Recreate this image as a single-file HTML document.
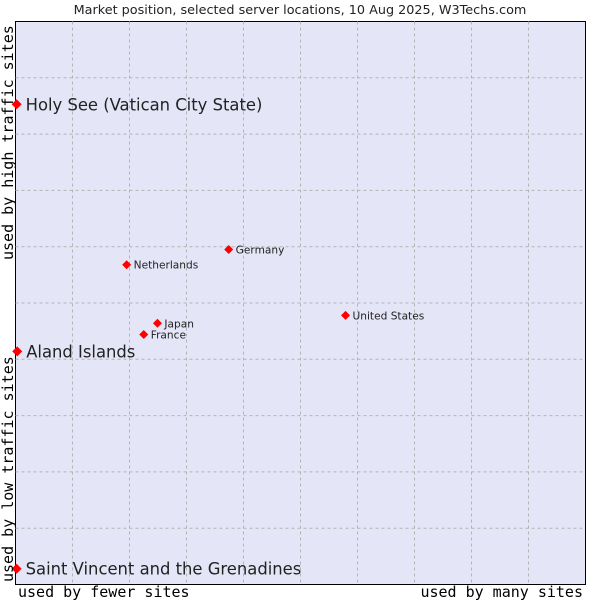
<!DOCTYPE html>
<html><head><meta charset="utf-8"><style>
body{margin:0;background:#fff;}
svg text{font-family:"DejaVu Sans","Liberation Sans",sans-serif;fill:#222;}
.mono{font-family:"DejaVu Sans Mono","Liberation Mono",monospace;fill:#000;}
</style></head><body>
<svg width="600" height="600">
<text x="300" y="14" text-anchor="middle" font-size="12.8">Market position, selected server locations, 10 Aug 2025, W3Techs.com</text>
<rect x="15.5" y="21.5" width="570" height="563" fill="#e5e5f8" stroke="#000"/>
<g id="grid"></g>
<g id="pts"></g>
<text class="mono" x="18" y="597" font-size="15">used by fewer sites</text>
<text class="mono" x="583" y="597" font-size="15" text-anchor="end">used by many sites</text>
<text class="mono" font-size="15" transform="translate(13,260) rotate(-90)">used by high traffic sites</text>
<text class="mono" font-size="15" transform="translate(13,582) rotate(-90)">used by low traffic sites</text>
</svg>
<script>
const names=["Holy See (Vatican City State)","Aland Islands","Saint Vincent and the Grenadines","Netherlands","Germany","Japan","France","United States"];
const xs=[0.2,0.3,0.2,19.5,37.4,24.9,22.5,57.9];
const ys=[85.3,41.4,2.8,56.8,59.5,46.4,44.4,47.8];
const big=[true,true,true,false,false,false,false,false];
const L=15.5,R=585.5,T=21.5,B=584.5;
const sx=v=>L+v/100*(R-L), sy=v=>B-v/100*(B-T);
const NS="http://www.w3.org/2000/svg";
const g=document.getElementById('grid');
for(let i=1;i<10;i++){
 let l=document.createElementNS(NS,'line');
 
 
 l.setAttribute('x1',sx(i*10));l.setAttribute('x2',sx(i*10));l.setAttribute('y1',T);l.setAttribute('y2',B);
 l.setAttribute('stroke','#b4b4b4');l.setAttribute('stroke-dasharray','3,3');g.appendChild(l);
 let m=document.createElementNS(NS,'line');
 
 
 m.setAttribute('y1',sy(i*10));m.setAttribute('y2',sy(i*10));m.setAttribute('x1',L);m.setAttribute('x2',R);
 m.setAttribute('stroke','#b4b4b4');m.setAttribute('stroke-dasharray','3,3');g.appendChild(m);
}
const p=document.getElementById('pts');
names.forEach((n,i)=>{
 const x=sx(xs[i]),y=sy(ys[i]),r=big[i]?5:4.5;
 let d=document.createElementNS(NS,'polygon');
 
 
 d.setAttribute('points',`${x},${y-r} ${x+r},${y} ${x},${y+r} ${x-r},${y}`);
 d.setAttribute('fill','#f00');p.appendChild(d);
 let t=document.createElementNS(NS,'text');
 
 
 t.setAttribute('x',x+(big[i]?9:7));t.setAttribute('y',y+(big[i]?6:4));
 t.setAttribute('font-size',big[i]?16.4:10.6);t.textContent=n;p.appendChild(t);
});
</script>
</body></html>
